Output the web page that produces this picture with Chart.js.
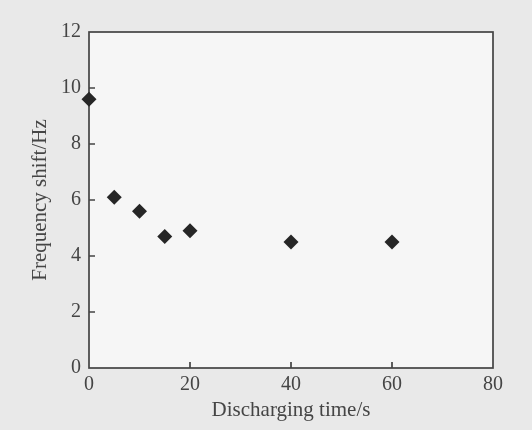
<!DOCTYPE html>
<html>
<head>
<meta charset="utf-8">
<script src="https://cdn.jsdelivr.net/npm/chart.js@4/dist/chart.umd.min.js"></script>
<style>
  html, body { margin: 0; padding: 0; background: #e9e9e9; }
  #wrap { width: 532px; height: 430px; }
</style>
</head>
<body>
<div id="wrap"><canvas id="chart" width="532" height="430"></canvas></div>
<script>
// discharge time (s) vs frequency shift (Hz)
const times = [0, 5, 10, 15, 20, 40, 60];
const shifts = [9.6, 6.1, 5.6, 4.7, 4.9, 4.5, 4.5];
const xTicks = [0, 20, 40, 60, 80];
const yTicks = [0, 2, 4, 6, 8, 10, 12];

const axisColor = '#444';
const textColor = '#454545';
const serif = "'Liberation Serif', 'Times New Roman', serif";

// paler plot background, frame and inner ticks (drawn under the markers)
const framePlugin = {
    id: 'frame',
    beforeDatasetsDraw(chart) {
        const { ctx, chartArea: a, scales } = chart;
        ctx.save();
        ctx.fillStyle = '#f6f6f6';
        ctx.fillRect(a.left, a.top, a.right - a.left, a.bottom - a.top);
        ctx.strokeStyle = axisColor;
        ctx.lineWidth = 1.7;
        ctx.strokeRect(a.left, a.top, a.right - a.left, a.bottom - a.top);
        ctx.beginPath();
        xTicks.slice(1, -1).forEach(v => {
            const px = scales.x.getPixelForValue(v);
            ctx.moveTo(px, a.bottom);
            ctx.lineTo(px, a.bottom - 6);
        });
        yTicks.slice(1, -1).forEach(v => {
            const py = scales.y.getPixelForValue(v);
            ctx.moveTo(a.left, py);
            ctx.lineTo(a.left + 6, py);
        });
        ctx.stroke();
        ctx.restore();
    }
};

new Chart(document.getElementById('chart'), {
    type: 'scatter',
    data: {
        datasets: [{
            data: times.map((t, i) => ({ x: t, y: shifts[i] })),
            pointStyle: 'rectRot',
            pointRadius: 7.5,
            backgroundColor: '#262626',
            borderColor: '#262626',
            borderWidth: 0,
            clip: false
        }]
    },
    options: {
        responsive: false,
        animation: false,
        layout: { padding: { left: 0, top: 32, right: 39, bottom: 0 } },
        plugins: { legend: { display: false }, tooltip: { enabled: false } },
        scales: {
            x: {
                type: 'linear',
                min: 0, max: 80,
                afterBuildTicks: s => { s.ticks = xTicks.map(v => ({ value: v })); },
                afterFit: s => { s.height = 62; },
                grid: { display: false, drawTicks: false },
                border: { display: false },
                ticks: { color: textColor, padding: 5, font: { family: serif, size: 20 } },
                title: {
                    display: true,
                    text: 'Discharging time/s',
                    color: textColor,
                    padding: { top: 0, bottom: 7 },
                    font: { family: serif, size: 21 }
                }
            },
            y: {
                min: 0, max: 12,
                afterBuildTicks: s => { s.ticks = yTicks.map(v => ({ value: v })); },
                afterFit: s => { s.width = 89; },
                grid: { display: false, drawTicks: false },
                border: { display: false },
                ticks: { color: textColor, padding: 8, font: { family: serif, size: 20 } },
                title: {
                    display: true,
                    text: 'Frequency shift/Hz',
                    color: textColor,
                    padding: { top: 28, bottom: 0 },
                    font: { family: serif, size: 21 }
                }
            }
        }
    },
    plugins: [framePlugin]
});
</script>
</body>
</html>
